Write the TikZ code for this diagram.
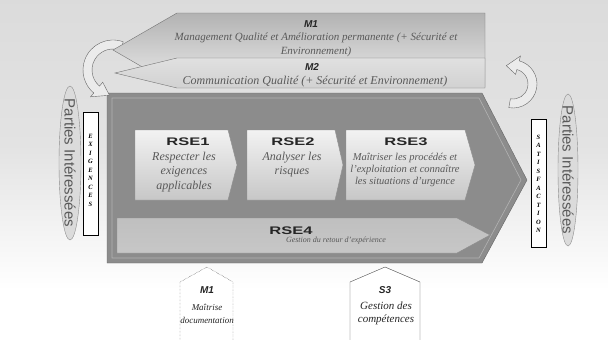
\documentclass[tikz,border=0pt]{standalone}
\usepackage{fontspec}
\setmainfont{Liberation Serif}
\setsansfont{Liberation Sans}
\usetikzlibrary{calc}
\tikzstyle{band} = [draw=black!55,thin]
\tikzstyle{rsebox} = [draw=black!45,top color=black!5,bottom color=black!22]
\tikzstyle{rsetitle} = [font=\sffamily\bfseries\fontsize{11}{12}\selectfont,text=black!85,xscale=1.5]
\tikzstyle{rsetext} = [font=\itshape\fontsize{12}{14.5}\selectfont,text=black!65,align=center]
\tikzstyle{mtitle} = [font=\sffamily\bfseries\itshape\fontsize{10}{11}\selectfont,text=black!85]
\tikzstyle{partie} = [draw=black!45,fill=black!14]
\tikzstyle{bendarrow} = [draw=black!60,fill=black!8]
\tikzstyle{vertbox} = [draw=black,thick,fill=white]
\tikzstyle{vertletters} = [font=\bfseries\itshape\fontsize{6.5}{8.5}\selectfont,align=center,inner sep=0pt]

\begin{document}
\begin{tikzpicture}[x=1pt,y=-1pt]
\useasboundingbox (0,0) rectangle (608,340);
\shade[top color=black!14,bottom color=white,middle color=black!11] (0,0) rectangle (608,290);

\draw[draw=black!60,fill=black!45] (107,93) -- (482,93) -- (527,180) -- (482,263) -- (107,263) -- cycle;
\draw[black!30,line width=0.6pt] (112,98) -- (479,98) -- (521,180) -- (479,258) -- (112,258) -- cycle;

\draw[rsebox] (135,130) -- (228,130) -- (237,165) -- (228,200) -- (135,200) -- cycle;
\draw[rsebox] (247,130) -- (335,130) -- (343,165) -- (335,200) -- (247,200) -- cycle;
\draw[rsebox] (346,130) -- (465,130) -- (475,165) -- (465,200) -- (346,200) -- cycle;
\draw[draw=black!45,top color=black!25,middle color=white,bottom color=black!22] (117,218) -- (457,218) -- (490,235) -- (457,253) -- (117,253) -- cycle;

\begin{scope}[shift={(113,70)}]
\draw[bendarrow] (-70:30) arc[start angle=-70,end angle=-230,radius=30] -- (-230:35) -- (-262:25.5) -- (-230:16) -- (-230:21) arc[start angle=-230,end angle=-70,radius=21] -- cycle;
\end{scope}
\begin{scope}[shift={(513,84)}]
\draw[bendarrow] (100:24) arc[start angle=100,end angle=-75,radius=24] -- (-75:29) -- (-110:19.5) -- (-75:10) -- (-75:15) arc[start angle=-75,end angle=100,radius=15] -- cycle;
\end{scope}

\draw[band,top color=black!30,bottom color=black!8] (177,13) -- (485,13) -- (485,87) -- (177,87) -- (113,50) -- cycle;
\draw[band,top color=black!12,middle color=white,bottom color=black!18] (177,58) -- (485,58) -- (485,88) -- (177,88) -- (115,73) -- cycle;

\draw[partie] (70,163) ellipse[x radius=11,y radius=77];
\draw[partie] (568,170) ellipse[x radius=10,y radius=76];

\draw[vertbox] (83,112) rectangle (98,235);
\draw[vertbox] (531,119) rectangle (546,247);

\draw[black!85,densely dotted,fill=white] (180,340) -- (180,282) -- (207,267) -- (233,282) -- (233,340);
\draw[black!70,thin,fill=white] (350,340) -- (350,282) -- (385,267) -- (420,282) -- (420,340);

\node[mtitle] (m1) at (311,24) {M1};
\node[rsetext,font=\itshape\fontsize{11}{14}\selectfont] (m1text) at (316,45) {Management Qualité et Amélioration permanente (+ Sécurité et\\Environnement)};
\node[mtitle] (m2) at (312,67) {M2};
\node[rsetext] (m2text) at (315,82) {Communication Qualité (+ Sécurité et Environnement)};

\node[rsetitle] (rse1) at (188,142) {RSE1};
\node[rsetext] (rse1text) at (184,172) {Respecter les\\exigences\\applicables};
\node[rsetitle] (rse2) at (293,142) {RSE2};
\node[rsetext] (rse2text) at (292,164.5) {Analyser les\\risques};
\node[rsetitle] (rse3) at (406,142) {RSE3};
\node[rsetext,font=\itshape\fontsize{10.5}{12}\selectfont] (rse3text) at (405,170) {Maîtriser les procédés et\\l'exploitation et connaître\\les situations d'urgence};
\node[rsetitle] (rse4) at (291,231) {RSE4};
\node[rsetext,font=\itshape\fontsize{8}{9}\selectfont] (rse4text) at (336,241) {Gestion du retour d'expérience};

\node[font=\sffamily\fontsize{15}{16}\selectfont,text=black!65,rotate=-90] (partiesg) at (70,163) {Parties Intéressées};
\node[font=\sffamily\fontsize{15}{16}\selectfont,text=black!65,rotate=-90] (partiesd) at (568,170) {Parties Intéressées};
\node[vertletters] (exigences) at (90.5,170) {E\\X\\I\\G\\E\\N\\C\\E\\S};
\node[vertletters] (satisfaction) at (538.5,184) {S\\A\\T\\I\\S\\F\\A\\C\\T\\I\\O\\N};

\node[mtitle] (m1bas) at (207,290) {M1};
\node[rsetext,font=\itshape\fontsize{9}{13}\selectfont,text=black!85] (m1bastext) at (207,313.5) {Maîtrise\\documentation};
\node[mtitle] (s3) at (385,290) {S3};
\node[rsetext,font=\itshape\fontsize{11}{13}\selectfont,text=black!85] (s3text) at (386,313.5) {Gestion des\\compétences};
\end{tikzpicture}
\end{document}
